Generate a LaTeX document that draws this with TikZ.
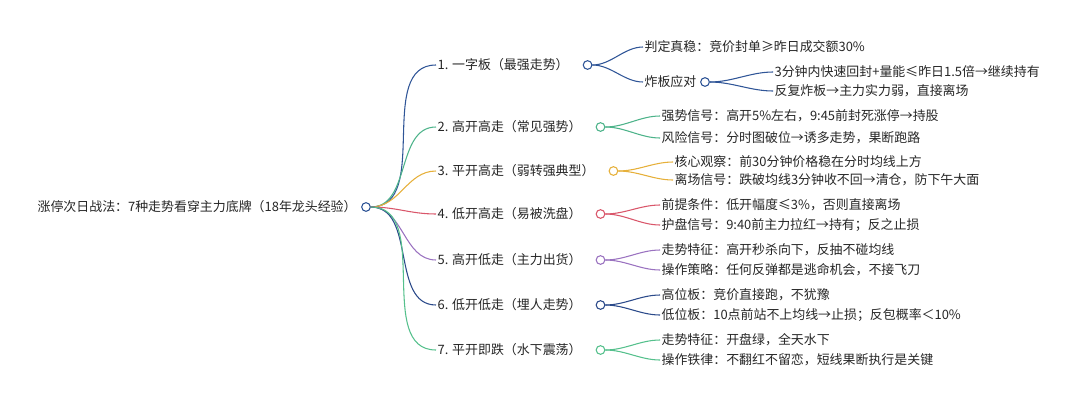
\documentclass[tikz,border=0pt]{standalone}
\usepackage{fontspec}
\setmainfont{Noto Sans CJK SC}
\begin{document}
\begin{tikzpicture}[x=0.75pt,y=-0.75pt,
  txt/.style={anchor=west,inner sep=1pt,font=\fontsize{9.7}{11}\selectfont,text=black!85},
  dot/.style={circle,draw=#1,fill=white,line width=0.8pt,inner sep=0,minimum size=6.5pt},
  br/.style={draw=#1,line width=0.8pt,out=0,in=180,looseness=0.9}]
\useasboundingbox (0,0) rectangle (1080,407);
\definecolor{cA}{HTML}{2F5597}
\definecolor{cB}{HTML}{4DB38A}
\definecolor{cC}{HTML}{E6B03A}
\definecolor{cD}{HTML}{D9566A}
\definecolor{cE}{HTML}{9A72C0}
\definecolor{cF}{HTML}{2B4A8A}
\definecolor{cG}{HTML}{55C08C}
\node[txt] (root) at (36,207) {涨停次日战法：7种走势看穿主力底牌（18年龙头经验）};
\node[dot=cA] (r) at (366,207) {};
% level 1
\node[txt] (a) at (436,65) {1. 一字板（最强走势）};
\node[txt] (b) at (436,127) {2. 高开高走（常见强势）};
\node[txt] (c) at (436,171) {3. 平开高走（弱转强典型）};
\node[txt] (d) at (436,214) {4. 低开高走（易被洗盘）};
\node[txt] (e) at (436,260) {5. 高开低走（主力出货）};
\node[txt] (f) at (436,305) {6. 低开低走（埋人走势）};
\node[txt] (g) at (436,350) {7. 平开即跌（水下震荡）};
\foreach \n/\c in {a/cA,b/cB,c/cC,d/cD,e/cE,f/cF,g/cG}{
  \node[dot=\c] (\n d) at ([xshift=13pt]\n.east) {};
  \draw[br=\c,looseness=1] (r.east) to (\n.west);}
% leaves
\node[txt] (a1) at (643,47) {判定真稳：竞价封单≥昨日成交额30\%};
\node[txt] (a2) at (643,82) {炸板应对};
\node[dot=cA] (a2d) at (705,82) {};
\node[txt] (a21) at (773,72) {3分钟内快速回封+量能≤昨日1.5倍→继续持有};
\node[txt] (a22) at (773,91) {反复炸板→主力实力弱，直接离场};
\node[txt] (b1) at (660,116) {强势信号：高开5\%左右，9:45前封死涨停→持股};
\node[txt] (b2) at (660,138) {风险信号：分时图破位→诱多走势，果断跑路};
\node[txt] (c1) at (673,162) {核心观察：前30分钟价格稳在分时均线上方};
\node[txt] (c2) at (673,180) {离场信号：跌破均线3分钟收不回→清仓，防下午大面};
\node[txt] (d1) at (660,205) {前提条件：低开幅度≤3\%，否则直接离场};
\node[txt] (d2) at (660,225) {护盘信号：9:40前主力拉红→持有；反之止损};
\node[txt] (e1) at (660,250) {走势特征：高开秒杀向下，反抽不碰均线};
\node[txt] (e2) at (660,270) {操作策略：任何反弹都是逃命机会，不接飞刀};
\node[txt] (f1) at (660,295) {高位板：竞价直接跑，不犹豫};
\node[txt] (f2) at (660,315) {低位板：10点前站不上均线→止损；反包概率＜10\%};
\node[txt] (g1) at (660,340) {走势特征：开盘绿，全天水下};
\node[txt] (g2) at (660,360) {操作铁律：不翻红不留恋，短线果断执行是关键};
\foreach \p/\q/\c in {ad/a1/cA,ad/a2/cA,a2d/a21/cA,a2d/a22/cA,bd/b1/cB,bd/b2/cB,cd/c1/cC,cd/c2/cC,
  dd/d1/cD,dd/d2/cD,ed/e1/cE,ed/e2/cE,fd/f1/cF,fd/f2/cF,gd/g1/cG,gd/g2/cG}
  \draw[br=\c] (\p.east) to (\q.west);
\end{tikzpicture}
\end{document}
